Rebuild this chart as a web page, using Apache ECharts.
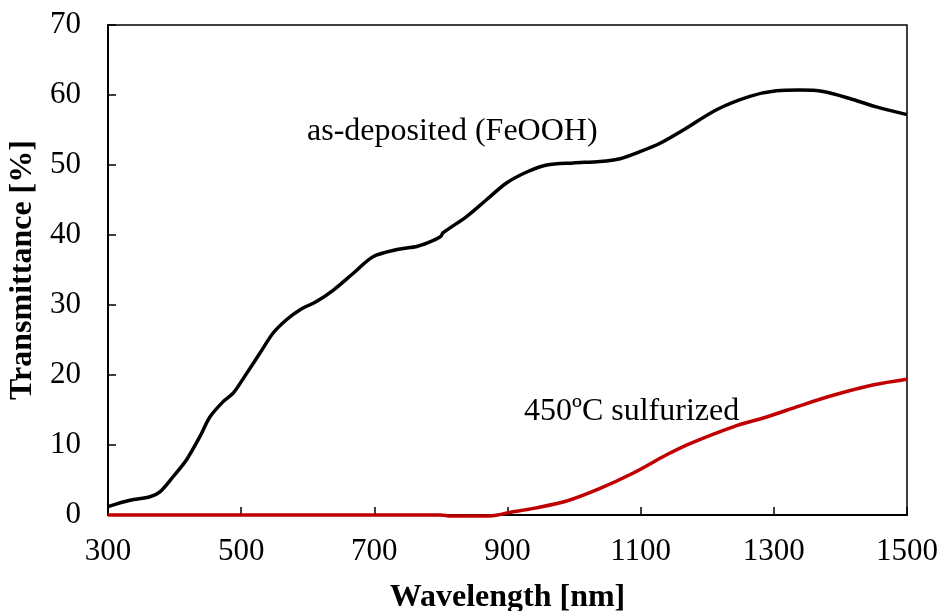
<!DOCTYPE html>
<html>
<head>
<meta charset="utf-8">
<script src="https://cdn.jsdelivr.net/npm/echarts@6/dist/echarts.min.js"></script>
<style>html,body{margin:0;padding:0;background:#fff}#c{width:942px;height:611px}</style>
</head>
<body>
<div id="c"></div>
<script>
var xTicks = [300, 500, 700, 900, 1100, 1300, 1500];
var yTicks = [0, 10, 20, 30, 40, 50, 60, 70];
var seriesNames = ['as-deposited (FeOOH)', '450ºC sulfurized'];
var asDeposited = [[300,1.2],[333,2.1],[363,2.6],[378,3.3],[398,5.5],[418,7.9],[438,11.2],[453,14.0],[473,16.2],[488,17.4],[508,20.2],[528,23.1],[548,26.0],[568,27.9],[588,29.3],[613,30.5],[638,32.1],[668,34.5],[698,36.9],[733,37.9],[765,38.4],[788,39.2],[800,39.8],[803,40.3],[838,42.6],[868,45.0],[898,47.4],[929,49.0],[959,50.0],[999,50.3],[1039,50.5],[1069,50.9],[1099,51.9],[1129,53.1],[1164,55.0],[1214,57.9],[1264,59.8],[1304,60.6],[1339,60.7],[1374,60.5],[1414,59.5],[1454,58.3],[1500,57.2]];
var sulfurized = [[300,0],[400,0],[500,0],[600,0],[700,0],[800,0],[815,-0.15],[870,-0.15],[885,0],[900,0.3],[939,0.95],[989,2.0],[1039,3.8],[1089,6.0],[1139,8.6],[1174,10.2],[1239,12.6],[1289,14.0],[1339,15.6],[1389,17.1],[1450,18.6],[1500,19.4]];

var FONT = '"Liberation Serif", "Times New Roman", serif';
var chart = echarts.init(document.getElementById('c'));
chart.setOption({
  animation: false,
  backgroundColor: '#fff',
  grid: {left: 108, right: 35, top: 25, bottom: 96, containLabel: false, outerBoundsMode: 'none',
         show: true, borderColor: '#000', borderWidth: 1.5, backgroundColor: 'transparent'},
  xAxis: {
    type: 'value', min: xTicks[0], max: xTicks[xTicks.length-1], interval: 200,
    name: 'Wavelength [nm]', nameLocation: 'middle', nameGap: 67,
    nameTextStyle: {fontFamily: FONT, fontSize: 32, fontWeight: 'bold', color: '#000'},
    axisLine: {lineStyle: {color: '#000', width: 2}},
    axisTick: {inside: true, length: 8, lineStyle: {color: '#000', width: 1.5}},
    axisLabel: {fontFamily: FONT, fontSize: 31, color: '#000', margin: 21, formatter: function (v) { return String(v); }},
    splitLine: {show: false}
  },
  yAxis: {
    type: 'value', min: yTicks[0], max: yTicks[yTicks.length-1], interval: 10,
    name: 'Transmittance [%]', nameLocation: 'middle', nameGap: 67, nameRotate: 90,
    nameTextStyle: {fontFamily: FONT, fontSize: 32, fontWeight: 'bold', color: '#000'},
    axisLine: {show: true, lineStyle: {color: '#000', width: 2}},
    axisTick: {show: true, inside: true, length: 8, lineStyle: {color: '#000', width: 1.5}},
    axisLabel: {fontFamily: FONT, fontSize: 31, color: '#000', margin: 27, formatter: function (v) { return String(v); }},
    splitLine: {show: false}
  },
  series: [
    {name: seriesNames[0], type: 'line', data: asDeposited, smooth: 0.3, showSymbol: false, clip: false,
     lineStyle: {color: '#000', width: 3.5}, z: 3},
    {name: seriesNames[1], type: 'line', data: sulfurized, smooth: 0.3, showSymbol: false, clip: false,
     lineStyle: {color: '#C00000', width: 3.5}, z: 4}
  ],
  graphic: [
    {type: 'text', left: 307, top: 116, style: {text: seriesNames[0], font: '32px ' + FONT, fill: '#000'}},
    {type: 'text', left: 524, top: 396, style: {text: seriesNames[1], font: '32px ' + FONT, fill: '#000'}}
  ]
});
</script>
</body>
</html>
